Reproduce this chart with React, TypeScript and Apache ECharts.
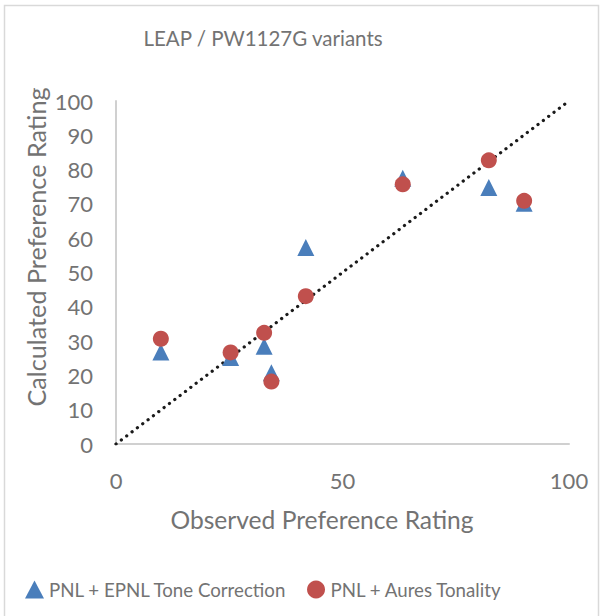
import React, { useEffect, useRef } from "react";
import * as echarts from "echarts";

const triangleX = [9.9, 25.3, 32.7, 34.3, 41.9, 63.3, 82.3, 90.1];
const triangleY = [26.8, 25.2, 28.5, 20.8, 57.3, 77.5, 74.8, 70.2];
const circleX = [9.9, 25.3, 32.7, 34.3, 41.9, 63.3, 82.3, 90.1];
const circleY = [30.7, 26.7, 32.4, 18.2, 43.1, 75.7, 82.7, 70.9];
const diagonal = [
  [0, 0],
  [100, 100],
];
const seriesNames = ["PNL + EPNL Tone Correction", "PNL + Aures Tonality"];
const titleText = "LEAP / PW1127G variants";
const xTitle = "Observed Preference Rating";
const yTitle = "Calculated Preference Rating";

const FONT = "Lato, 'Open Sans', sans-serif";
const TXT = "#737373";

export default function App() {
  const ref = useRef<HTMLDivElement>(null);
  useEffect(() => {
    if (!ref.current) return;
    const chart = echarts.init(ref.current, undefined, { renderer: "svg" });
    chart.setOption({
      animation: false,
      backgroundColor: "#ffffff",
      textStyle: { fontFamily: FONT },
      graphic: [
        {
          type: "rect",
          shape: { x: 4.5, y: 5.5, width: 594, height: 630 },
          style: { fill: "none", stroke: "#D9D9D9", lineWidth: 1.5 },
          silent: true,
        },
        {
          type: "text",
          x: 263,
          y: 38,
          style: {
            text: titleText,
            fontSize: 20.5,
            fontFamily: FONT,
            fill: TXT,
            align: "center",
            verticalAlign: "middle",
          },
        },
        {
          type: "text",
          x: 322,
          y: 519,
          style: {
            text: xTitle,
            fontSize: 24.6,
            fontFamily: FONT,
            fill: TXT,
            align: "center",
            verticalAlign: "middle",
          },
        },
        {
          type: "text",
          x: 36,
          y: 247,
          rotation: Math.PI / 2,
          style: {
            text: yTitle,
            fontSize: 25.2,
            fontFamily: FONT,
            fill: TXT,
            align: "center",
            verticalAlign: "middle",
          },
        },
      ],
      legend: {
        data: [
          { name: seriesNames[0], icon: "triangle" },
          { name: seriesNames[1], icon: "circle" },
        ],
        left: 20,
        top: 575,
        itemWidth: 19,
        itemHeight: 18,
        itemGap: 20,
        textStyle: { fontSize: 18.7, color: TXT, fontFamily: FONT },
      },
      grid: { left: 116, right: 32, top: 101, bottom: 172, containLabel: false },
      xAxis: {
        type: "value",
        min: 0,
        max: 100,
        interval: 50,
        axisLine: { show: true, lineStyle: { color: "#D0D0D0", width: 2 } },
        axisTick: { show: false },
        splitLine: { show: false },
        axisLabel: { fontSize: 22, color: TXT, margin: 25, fontFamily: FONT },
      },
      yAxis: {
        type: "value",
        min: 0,
        max: 100,
        interval: 10,
        axisLine: { show: true, lineStyle: { color: "#D0D0D0", width: 2 } },
        axisTick: { show: false },
        splitLine: { show: false },
        axisLabel: {
          fontSize: 22,
          color: TXT,
          margin: 23,
          fontFamily: FONT,
          padding: [18, 0, 0, 0],
        },
      },
      series: [
        {
          type: "line",
          data: diagonal,
          showSymbol: false,
          symbol: "none",
          silent: true,
          z: 1,
          lineStyle: { color: "#1a1a1a", width: 3.2, type: [0.1, 6.6], cap: "round" },
        },
        {
          name: seriesNames[0],
          type: "scatter",
          symbol: "triangle",
          symbolSize: 17,
          z: 2,
          itemStyle: { color: "#4A7EBB", opacity: 1 },
          data: triangleX.map((x, i) => [x, triangleY[i]]),
        },
        {
          name: seriesNames[1],
          type: "scatter",
          symbol: "circle",
          symbolSize: 16,
          z: 3,
          itemStyle: { color: "#C0504D", opacity: 1 },
          data: circleX.map((x, i) => [x, circleY[i]]),
        },
      ],
    });
    return () => chart.dispose();
  }, []);
  return (
    <div
      ref={ref}
      style={{ position: "fixed", left: 0, top: 0, width: 601, height: 616 }}
    />
  );
}
